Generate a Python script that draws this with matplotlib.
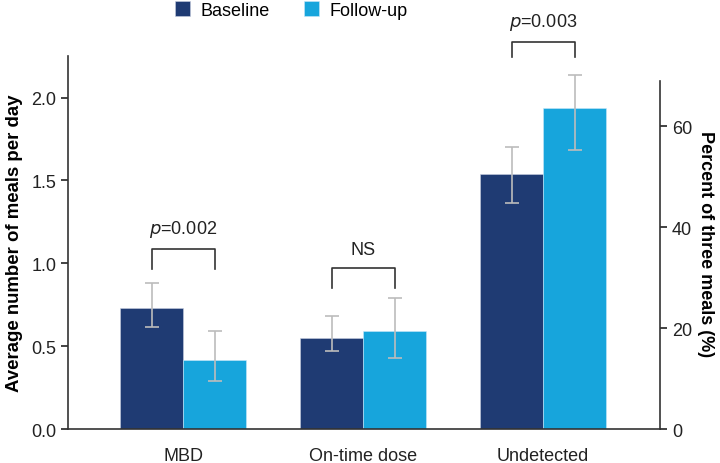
import matplotlib

matplotlib.use("Agg")

import matplotlib.pyplot as plt
import numpy as np

plt.rcParams["font.family"] = ["Liberation Sans", "DejaVu Sans"]

categories = ["MBD", "On-time dose", "Undetected"]
series_names = ["Baseline", "Follow-up"]
baseline = [0.733, 0.548, 1.538]
baseline_lo = [0.614, 0.473, 1.367]
baseline_hi = [0.883, 0.682, 1.703]
followup = [0.416, 0.590, 1.934]
followup_lo = [0.293, 0.428, 1.683]
followup_hi = [0.590, 0.793, 2.133]
sig_labels = ["$p$=0.002", "NS", "$p$=0.003"]
bracket_top = [1.088, 0.972, 2.333]
bracket_leg = [0.966, 0.851, 2.243]
right_ticks = [0, 20, 40, 60]

c_base = "#1f3b73"
c_follow = "#17a5dc"
c_err = "#bcbcbc"
fs = 13

fig = plt.figure(figsize=(7.2, 4.64), dpi=100)
ax = fig.add_axes([0.0944, 0.0726, 0.8223, 0.8044])

x = np.arange(len(categories))
w = 0.35
b = np.array(baseline)
f = np.array(followup)
ax.bar(x - w / 2, b, w, color=c_base, edgecolor="#c8d0e0", linewidth=0.4,
       label=series_names[0], zorder=2)
ax.bar(x + w / 2, f, w, color=c_follow, edgecolor="#c8e8f8", linewidth=0.4,
       label=series_names[1], zorder=2)
ax.errorbar(x - w / 2, b, yerr=[b - np.array(baseline_lo), np.array(baseline_hi) - b],
            fmt="none", ecolor=c_err, elinewidth=1.2, capsize=4.7, capthick=1.2, zorder=3)
ax.errorbar(x + w / 2, f, yerr=[f - np.array(followup_lo), np.array(followup_hi) - f],
            fmt="none", ecolor=c_err, elinewidth=1.2, capsize=4.7, capthick=1.2, zorder=3)

for i in range(len(categories)):
    x0, x1 = x[i] - w / 2, x[i] + w / 2
    ax.plot([x0, x0, x1, x1], [bracket_leg[i], bracket_top[i], bracket_top[i], bracket_leg[i]],
            color="#333333", lw=1.2, clip_on=False, zorder=4)
    ax.text(x[i], bracket_top[i] + 0.06, sig_labels[i], ha="center", va="bottom",
            fontsize=fs, color="#222222", clip_on=False)

ax.set_xlim(-0.64, 2.65)
ax.set_ylim(0, 2.25)
ax.set_yticks([0.0, 0.5, 1.0, 1.5, 2.0])
ax.set_yticklabels(["0.0", "0.5", "1.0", "1.5", "2.0"])
ax.set_xticks(x)
ax.set_xticklabels(categories)
ax.tick_params(axis="x", length=0, pad=13, labelsize=fs, colors="#222222")
ax.tick_params(axis="y", length=5, width=1.2, labelsize=fs, colors="#222222")
for s in ["top", "right"]:
    ax.spines[s].set_visible(False)
for s in ["left", "bottom"]:
    ax.spines[s].set_linewidth(1.2)
    ax.spines[s].set_color("#333333")
ax.set_ylabel("Average number of meals per day", fontsize=13.4, fontweight="bold", labelpad=6)

ax2 = ax.twinx()
ax2.set_ylim(0, 73.9)
ax2.set_yticks(right_ticks)
ax2.spines["right"].set_bounds(0, 69)
ax2.spines["right"].set_linewidth(1.2)
ax2.spines["right"].set_color("#333333")
for s in ["top", "left", "bottom"]:
    ax2.spines[s].set_visible(False)
ax2.tick_params(axis="y", length=5, width=1.2, labelsize=fs, colors="#222222")
ax2.set_ylabel("Percent of three meals (%)", fontsize=13, fontweight="bold",
               rotation=270, labelpad=16)

fig.legend(*ax.get_legend_handles_labels(), loc="upper left", bbox_to_anchor=(175 / 720, 0.995),
           ncol=2, frameon=False, fontsize=fs, handlelength=0.85, handleheight=0.85,
           columnspacing=1.9, handletextpad=0.55, borderpad=0, borderaxespad=0)

fig.savefig("out.png", dpi=100)
